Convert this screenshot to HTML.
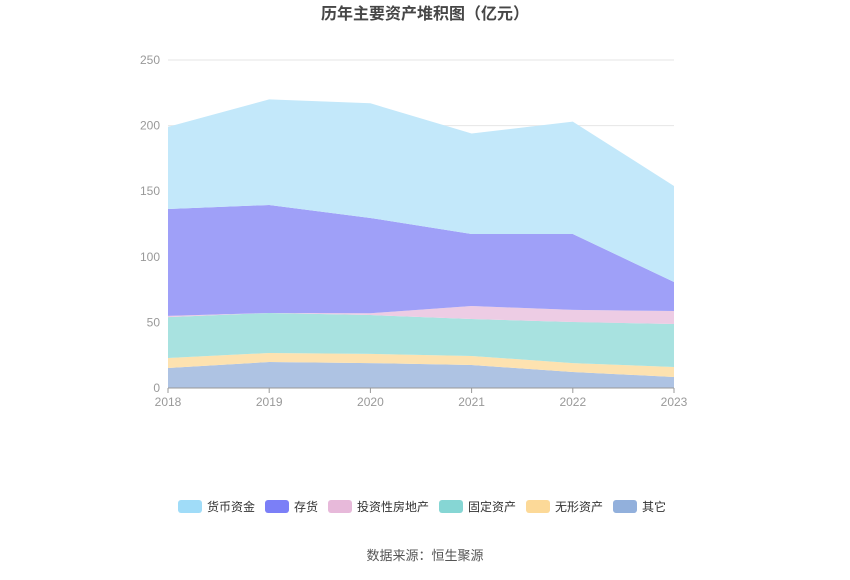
<!DOCTYPE html>
<html><head><meta charset="utf-8"><style>
body{margin:0;background:#fff;font-family:"Liberation Sans","Noto Sans CJK SC",sans-serif}
svg text{font-family:"Liberation Sans","Noto Sans CJK SC",sans-serif}
</style></head><body>
<svg id="chart" width="850" height="575" xmlns="http://www.w3.org/2000/svg">
<text x="425" y="19" text-anchor="middle" font-size="16" font-weight="bold" fill="#464646">历年主要资产堆积图（亿元）</text>
<g id="grid"></g><g id="areas"></g><g id="axes"></g><g id="legend"></g>
<text x="425" y="560" text-anchor="middle" font-size="13" fill="#555">数据来源：恒生聚源</text>
</svg>
<script>
const years=["2018","2019","2020","2021","2022","2023"];
const seriesNames=["其它","无形资产","固定资产","投资性房地产","存货","货币资金"];
const other=[15.2,19.8,19,17.5,12.2,8.4];
const intangible=[7.7,6.9,7,6.9,6.8,7.6];
const fixed=[31.1,30.5,29.6,28.2,31.3,32.8];
const investProp=[1,0,1.4,9.9,9.2,9.9];
const inventory=[81.4,82.3,72.6,54.9,57.9,22.1];
const cash=[62.6,80.5,87.4,76.6,85.6,73.2];
const yTicks=[0,50,100,150,200,250];
const fills=["#aec3e3","#fde2b0","#a8e2e0","#edcce4","#9fa0f8","#c3e8fa"];
const legendColors=["#92b0dc","#fcd998","#86d6d4","#e7b9da","#7b7ff7","#a0dcf8"];
const ns="http://www.w3.org/2000/svg";
const x0=168,x1=674,y0=388,y1=60,ymax=250;
const X=i=>x0+(x1-x0)*i/(years.length-1);
const Y=v=>y0-(y0-y1)*v/ymax;
function mk(t,a,p){const e=document.createElementNS(ns,t);for(const k in a)e.setAttribute(k,a[k]);p.appendChild(e);return e;}
const grid=document.getElementById('grid'),axes=document.getElementById('axes'),areas=document.getElementById('areas'),legend=document.getElementById('legend');
yTicks.forEach(t=>{
 if(t>0){const l=mk('line',{x1:x0,x2:x1,y1:Y(t),y2:Y(t),stroke:'#e6e6e6'},grid);
 
 }
 const tx=mk('text',{x:160,y:Y(t)+4,'text-anchor':'end','font-size':12,fill:'#999'},axes);tx.textContent=t;
 
 
});
const all=[other,intangible,fixed,investProp,inventory,cash];
let base=years.map(()=>0);
all.forEach((s,k)=>{
 const top=base.map((b,i)=>b+s[i]);
 let d='M'+years.map((_,i)=>X(i)+','+Y(top[i])).join('L');
 for(let i=years.length-1;i>=0;i--)d+='L'+X(i)+','+Y(base[i]);
 d+='Z';
 const p=mk('path',{d:d,fill:fills[k]},areas);
 
 
 base=top;
});
const ax=mk('line',{x1:x0,x2:x1,y1:y0,y2:y0,stroke:'#999'},axes);


years.forEach((yr,i)=>{
 const tk=mk('line',{x1:X(i),x2:X(i),y1:y0,y2:y0+5,stroke:'#999'},axes);
 
 
 const t=mk('text',{x:X(i),y:406,'text-anchor':'middle','font-size':12,fill:'#999'},axes);t.textContent=yr;
 
 
});
const legOrder=[5,4,3,2,1,0];
let lx=178;
legOrder.forEach(k=>{
 const g=mk('g',{},legend);
 
 
 mk('rect',{x:lx,y:500,width:24,height:13,rx:3,fill:legendColors[k]},g);
 const t=mk('text',{x:lx+29,y:511,'font-size':12,fill:'#333'},g);t.textContent=seriesNames[k];
 lx+=29+seriesNames[k].length*12+10;
});
</script>
</body></html>
